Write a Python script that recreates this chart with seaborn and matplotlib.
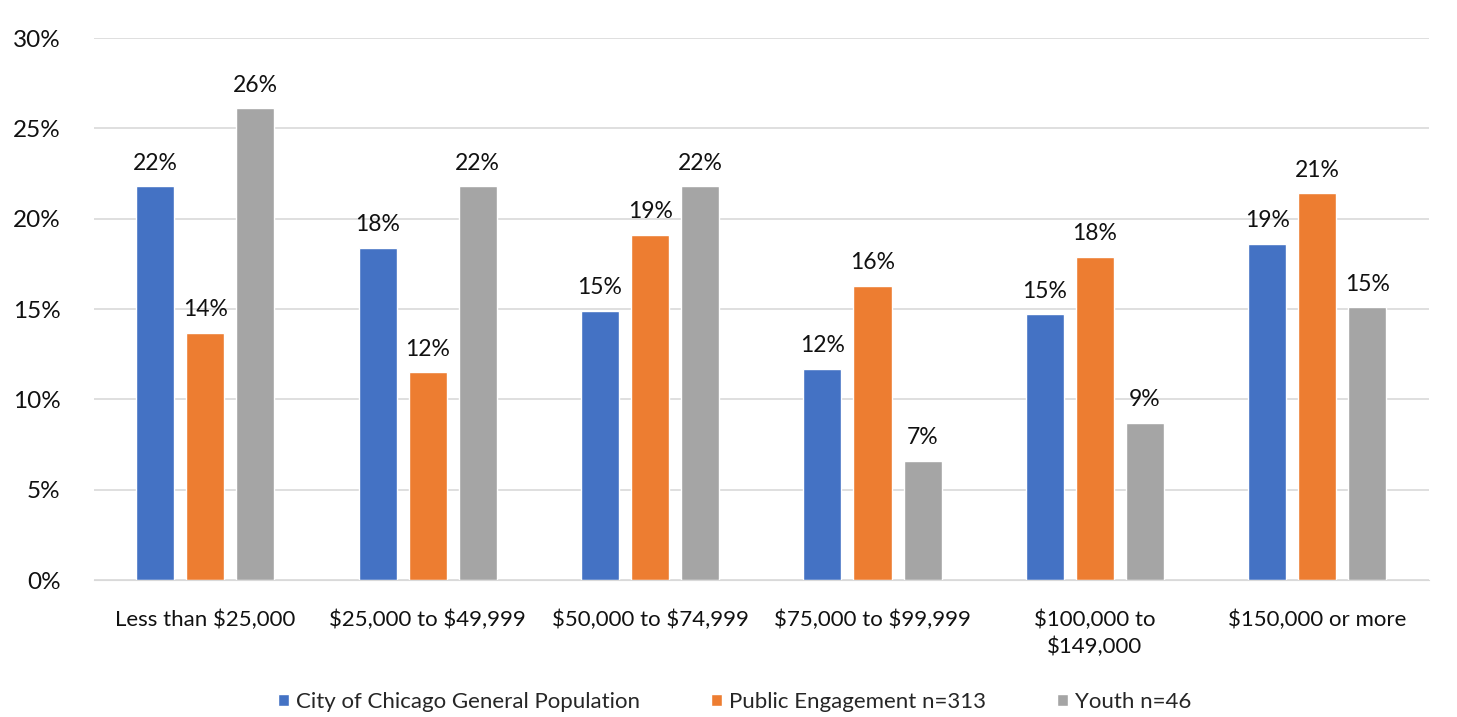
import numpy as np
import pandas as pd
import seaborn as sns
import matplotlib.pyplot as plt

# income brackets (x axis)
categories = ['Less than $25,000', '$25,000 to $49,999', '$50,000 to $74,999',
              '$75,000 to $99,999', '$100,000 to\n$149,000', '$150,000 or more']

# share of respondents per bracket, in percent
chicago = [21.8, 18.4, 14.9, 11.7, 14.7, 18.6]
engagement = [13.7, 11.5, 19.1, 16.3, 17.9, 21.4]
youth = [26.1, 21.8, 21.8, 6.6, 8.7, 15.1]

series = ['City of Chicago General Population', 'Public Engagement n=313', 'Youth n=46']
colors = ['#4472C4', '#ED7D31', '#A5A5A5']

# long format for seaborn
df = pd.DataFrame({
    'Income': categories * 3,
    'Group': np.repeat(series, len(categories)),
    'Percent': chicago + engagement + youth,
})

sns.set_style('white')
plt.rcParams['font.family'] = ['Lato', 'DejaVu Sans']
plt.rcParams['text.parse_math'] = False

fig = plt.figure(figsize=(14.57, 7.17), dpi=100)
ax = fig.add_axes([0.0645, 0.191, 0.916, 0.756])

sns.barplot(data=df, x='Income', y='Percent', hue='Group', palette=colors,
            saturation=1, width=0.675, gap=0.24, ax=ax)

# data labels on top of every bar
for cont in ax.containers:
    ax.bar_label(cont, labels=[f'{v:.0f}%' for v in cont.datavalues],
                 padding=9, fontsize=16.5, color='#111111')

ax.set_ylim(0, 30)
ax.set_yticks(range(0, 31, 5))
ax.set_yticklabels([f'{t}%' for t in range(0, 31, 5)], fontsize=17.5, color='#111111')
ax.tick_params(axis='x', labelsize=16, colors='#111111', length=0, pad=21)
ax.tick_params(axis='y', length=0, pad=24)
for lbl in ax.get_xticklabels():
    lbl.set_linespacing(1.4)
ax.set_xlabel('')
ax.set_ylabel('')

ax.grid(axis='y', color='#D9D9D9', linewidth=1.2)
ax.set_axisbelow(True)
for side in ['top', 'right', 'left']:
    ax.spines[side].set_visible(False)
ax.spines['bottom'].set_color('#D9D9D9')

ax.legend(loc='center', bbox_to_anchor=(0.48, -0.225), ncol=3, frameon=False,
          fontsize=16, handlelength=0.5, handleheight=0.5, handletextpad=0.3,
          columnspacing=3.2)

fig.savefig('out.png', dpi=100)
